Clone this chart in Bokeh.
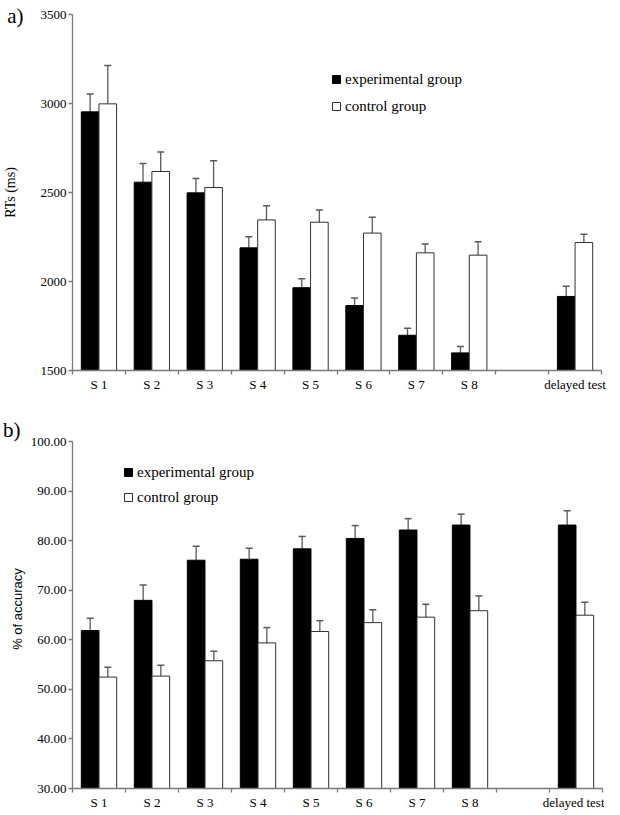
from bokeh.plotting import figure
from bokeh.models import (Range1d, LinearAxis, FixedTicker, ColumnDataSource, Whisker, TeeHead,
                          Legend, LegendItem, PrintfTickFormatter)
from bokeh.layouts import column
from bokeh.embed import file_html
from bokeh.resources import INLINE

# ---- data ----
categories = ["S 1", "S 2", "S 3", "S 4", "S 5", "S 6", "S 7", "S 8", " ", "delayed test"]
sessions = ["S 1", "S 2", "S 3", "S 4", "S 5", "S 6", "S 7", "S 8", "delayed test"]
groups = ["experimental group", "control group"]

rt_exp = [2953, 2558, 2498, 2189, 1965, 1865, 1698, 1599, 1916]
rt_exp_err = [100, 105, 80, 62, 50, 43, 40, 36, 58]
rt_ctrl = [2998, 2618, 2528, 2346, 2333, 2272, 2161, 2148, 2219]
rt_ctrl_err = [215, 110, 150, 79, 68, 89, 50, 75, 47]

acc_exp = [61.9, 68.0, 76.1, 76.3, 78.4, 80.5, 82.2, 83.2, 83.2]
acc_exp_err = [2.5, 3.1, 2.8, 2.2, 2.5, 2.6, 2.3, 2.2, 2.9]
acc_ctrl = [52.5, 52.7, 55.8, 59.4, 61.7, 63.5, 64.6, 65.9, 65.0]
acc_ctrl_err = [2.0, 2.2, 1.9, 3.1, 2.2, 2.6, 2.6, 3.0, 2.6]

rt_ticks = [1500, 2000, 2500, 3000, 3500]
acc_ticks = [30, 40, 50, 60, 70, 80, 90, 100]

SERIF = "Liberation Serif"
SANS = "Liberation Sans"
AXIS_COLOR = "#7a7a7a"
ERR_COLOR = "#5a5a5a"

# category slot centres on the numeric x scale (slot i spans [i, i+1])
centre = {c: i + 0.5 for i, c in enumerate(categories)}
DODGE = 0.167
BAR_W = 0.333


def make_panel(tag, tag_y, y_top, ticks, fmt, exp, exp_err, ctrl, ctrl_err, ylabel, ylabel_font,
               ylabel_size, tag_standoff, label_standoff, frame_w, frame_h, borders,
               legend_loc, legend_spacing):
    y0, y1 = ticks[0], ticks[-1]
    p = figure(x_range=Range1d(0, len(categories)), y_range=Range1d(y0, y_top),
               frame_width=frame_w, frame_height=frame_h,
               min_border_left=borders[0], min_border_right=borders[1],
               min_border_top=borders[2], min_border_bottom=borders[3],
               output_backend="svg", toolbar_location=None,
               x_axis_location=None, y_axis_location=None)
    p.outline_line_color = None
    p.grid.visible = False

    xc = [centre[s] for s in sessions]
    src = ColumnDataSource(dict(
        x_exp=[x - DODGE for x in xc], x_ctrl=[x + DODGE for x in xc],
        exp=exp, exp_up=[v + e for v, e in zip(exp, exp_err)],
        ctrl=ctrl, ctrl_up=[v + e for v, e in zip(ctrl, ctrl_err)],
    ))

    r_exp = p.vbar(x="x_exp", top="exp", bottom=y0, width=BAR_W,
                   source=src, fill_color="black", line_color="black", line_width=1)
    r_ctrl = p.vbar(x="x_ctrl", top="ctrl", bottom=y0, width=BAR_W,
                    source=src, fill_color="white", line_color="#303030", line_width=1)

    for xb, lo, hi in [("x_exp", "exp", "exp_up"), ("x_ctrl", "ctrl", "ctrl_up")]:
        p.add_layout(Whisker(base=xb, lower=lo, upper=hi,
                             source=src, dimension="height", lower_head=None,
                             upper_head=TeeHead(size=7, line_color=ERR_COLOR, line_width=1.5),
                             line_color=ERR_COLOR, line_width=1.3))

    # value axis (ticks + numbers)
    yaxis = LinearAxis(ticker=FixedTicker(ticks=ticks, minor_ticks=[]), bounds=(y0, y1),
                       formatter=PrintfTickFormatter(format=fmt),
                       major_label_text_font=SERIF, major_label_text_font_size="13px",
                       major_label_text_color="black", major_label_standoff=2,
                       major_tick_in=0, major_tick_out=4, minor_tick_out=0, minor_tick_in=0,
                       axis_line_color=AXIS_COLOR, axis_line_width=1.3,
                       major_tick_line_color=AXIS_COLOR, major_tick_line_width=1.3)
    p.add_layout(yaxis, "left")

    # outer axis carrying the panel tag and the axis title
    tag_axis = LinearAxis(ticker=FixedTicker(ticks=[tag_y], minor_ticks=[]),
                          major_label_overrides={tag_y: tag},
                          major_label_text_font=SERIF, major_label_text_font_size="21px",
                          major_label_text_color="black", major_label_standoff=tag_standoff,
                          major_tick_in=0, major_tick_out=0, minor_tick_out=0, minor_tick_in=0,
                          axis_line_color=None, major_tick_line_color=None,
                          axis_label=ylabel, axis_label_text_font=ylabel_font,
                          axis_label_text_font_size=ylabel_size,
                          axis_label_text_font_style="normal", axis_label_text_color="black",
                          axis_label_standoff=label_standoff)
    p.add_layout(tag_axis, "left")

    label_pos = [centre[c] for c in categories]
    xaxis = LinearAxis(ticker=FixedTicker(ticks=label_pos,
                                          minor_ticks=list(range(len(categories) + 1))),
                       major_label_overrides={pos: c for pos, c in zip(label_pos, categories)},
                       major_label_standoff=2, major_label_text_font=SERIF,
                       major_label_text_font_size="13px", major_label_text_color="black",
                       major_tick_in=0, major_tick_out=0, minor_tick_in=0, minor_tick_out=4,
                       axis_line_color=AXIS_COLOR, axis_line_width=1.3,
                       major_tick_line_color=None,
                       minor_tick_line_color=AXIS_COLOR, minor_tick_line_width=1.3)
    p.add_layout(xaxis, "below")

    legend = Legend(items=[LegendItem(label=groups[0], renderers=[r_exp]),
                           LegendItem(label=groups[1], renderers=[r_ctrl])],
                    location=legend_loc, border_line_color=None, background_fill_alpha=0,
                    padding=0, margin=0, spacing=legend_spacing, glyph_width=10, glyph_height=10,
                    label_standoff=4, label_height=20, label_text_font=SERIF,
                    label_text_font_size="15px", label_text_color="black")
    p.add_layout(legend)
    return p


p1 = make_panel("a)", 3490, 3500, rt_ticks, "%d", rt_exp, rt_exp_err, rt_ctrl, rt_ctrl_err,
                "RTs (ms)", SERIF, "14px", 14, -14, 529, 356, (65, 10, 14, 24), (259, 254), 7)
p2 = make_panel("b)", 102.5, 102.5, acc_ticks, "%.2f", acc_exp, acc_exp_err, acc_ctrl,
                acc_ctrl_err, "% of accuracy", SANS, "13px", 7, -25, 530, 359,
                (69, 5, 35, 21), (51, 281), 5)

layout = column(p1, p2, spacing=0)
open("out.html", "w").write(file_html(layout, INLINE))
